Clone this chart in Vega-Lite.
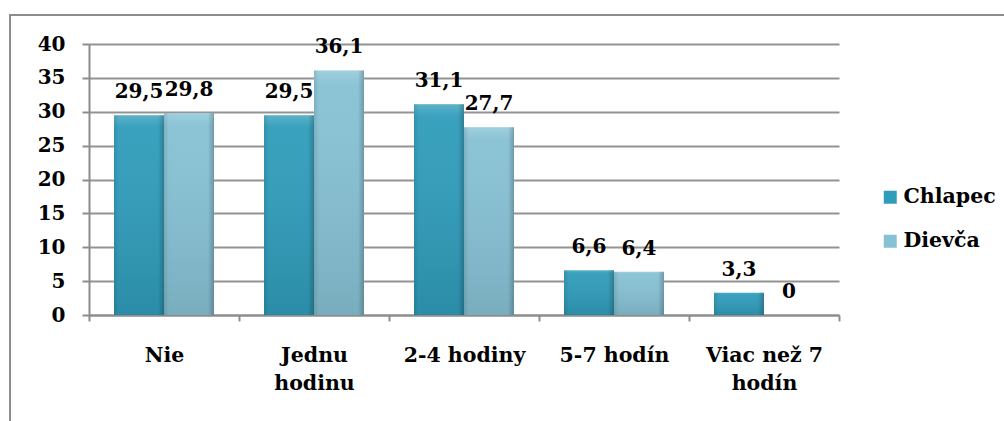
{
  "$schema": "https://vega.github.io/schema/vega-lite/v6.json",
  "width": 750,
  "height": 271,
  "autosize": {"type": "none"},
  "padding": {"left": 89, "top": 44, "right": 165, "bottom": 106},
  "background": "white",
  "config": {
    "font": "DejaVu Serif",
    "view": {"stroke": null},
    "locale": {"number": {"decimal": ",", "thousands": " ", "grouping": [3], "currency": ["", " €"]}}
  },
  "resolve": {"scale": {"x": "independent", "y": "independent"}, "axis": {"x": "independent", "y": "independent"}},
  "layer": [
    {
      "data": {
        "values": [
          {"kategoria": "Nie", "pohlavie": "Chlapec", "percento": 29.5},
          {"kategoria": "Nie", "pohlavie": "Dievča", "percento": 29.8},
          {"kategoria": "Jednu hodinu", "pohlavie": "Chlapec", "percento": 29.5},
          {"kategoria": "Jednu hodinu", "pohlavie": "Dievča", "percento": 36.1},
          {"kategoria": "2-4 hodiny", "pohlavie": "Chlapec", "percento": 31.1},
          {"kategoria": "2-4 hodiny", "pohlavie": "Dievča", "percento": 27.7},
          {"kategoria": "5-7 hodín", "pohlavie": "Chlapec", "percento": 6.6},
          {"kategoria": "5-7 hodín", "pohlavie": "Dievča", "percento": 6.4},
          {"kategoria": "Viac než 7 hodín", "pohlavie": "Chlapec", "percento": 3.3},
          {"kategoria": "Viac než 7 hodín", "pohlavie": "Dievča", "percento": 0}
        ]
      },
      "encoding": {
        "x": {
          "field": "kategoria",
          "type": "nominal",
          "sort": ["Nie", "Jednu hodinu", "2-4 hodiny", "5-7 hodín", "Viac než 7 hodín"],
          "scale": {"paddingInner": 0, "paddingOuter": 0},
          "axis": {
            "title": null,
            "tickBand": "extent",
            "labelAngle": 0,
            "domainColor": "#8c8c8c",
            "domainWidth": 2,
            "tickColor": "#8c8c8c",
            "tickWidth": 2,
            "tickSize": 6,
            "labelPadding": 24,
            "labelFont": "DejaVu Serif",
            "labelFontWeight": "bold",
            "labelFontSize": 20.5,
            "labelColor": "black",
            "labelLineHeight": 28,
            "labelExpr": "datum.value == 'Jednu hodinu' ? ['Jednu', 'hodinu'] : datum.value == 'Viac než 7 hodín' ? ['Viac než 7', 'hodín'] : datum.value"
          }
        },
        "xOffset": {
          "field": "pohlavie",
          "type": "nominal",
          "scale": {"domain": ["Chlapec", "Dievča"], "paddingInner": 0, "paddingOuter": 0.5}
        },
        "y": {
          "field": "percento",
          "type": "quantitative",
          "scale": {"domain": [0, 40], "nice": false},
          "axis": {
            "title": null,
            "values": [0, 5, 10, 15, 20, 25, 30, 35, 40],
            "grid": true,
            "gridColor": "#939393",
            "gridWidth": 2,
            "domainColor": "#8c8c8c",
            "domainWidth": 2,
            "tickColor": "#8c8c8c",
            "tickWidth": 2,
            "tickSize": 7,
            "labelPadding": 17,
            "labelFont": "DejaVu Serif",
            "labelFontWeight": "bold",
            "labelFontSize": 20,
            "labelColor": "black"
          }
        }
      },
      "layer": [
        {
          "mark": {"type": "bar"},
          "encoding": {
            "color": {
              "field": "pohlavie",
              "type": "nominal",
              "scale": {"domain": ["Chlapec", "Dievča"], "range": ["#2f9cba", "#86c1d4"]},
              "legend": {
                "title": null,
                "orient": "none",
                "legendX": 791,
                "legendY": 143,
                "padding": 0,
                "symbolType": "square",
                "symbolSize": 169,
                "symbolStrokeWidth": 0,
                "labelOffset": 3,
                "rowPadding": 23,
                "labelFont": "DejaVu Serif",
                "labelFontWeight": "bold",
                "labelFontSize": 20.5,
                "labelColor": "black"
              }
            }
          }
        },
        {
          "mark": {
            "type": "bar",
            "fill": {
              "gradient": "linear",
              "x1": 0, "y1": 0, "x2": 0, "y2": 1,
              "stops": [
                {"offset": 0, "color": "rgba(255,255,255,0.22)"},
                {"offset": 0.06, "color": "rgba(255,255,255,0.05)"},
                {"offset": 1, "color": "rgba(0,0,0,0.1)"}
              ]
            }
          }
        },
        {
          "mark": {
            "type": "bar",
            "fill": {
              "gradient": "linear",
              "x1": 0, "y1": 0, "x2": 1, "y2": 0,
              "stops": [
                {"offset": 0, "color": "rgba(0,0,0,0.1)"},
                {"offset": 0.1, "color": "rgba(0,0,0,0)"},
                {"offset": 0.88, "color": "rgba(0,0,0,0)"},
                {"offset": 1, "color": "rgba(0,0,0,0.22)"}
              ]
            }
          }
        },
        {
          "mark": {
            "type": "text",
            "baseline": "alphabetic",
            "dy": -17,
            "font": "DejaVu Serif",
            "fontWeight": "bold",
            "fontSize": 20,
            "color": "black"
          },
          "encoding": {
            "text": {"field": "percento", "type": "quantitative", "format": ".1~f"}
          }
        }
      ]
    },
    {
      "data": {"values": [{}]},
      "mark": {"type": "rect", "fill": null, "stroke": "#8c8c8c", "strokeWidth": 2, "clip": false},
      "encoding": {
        "x": {"datum": -0.1053, "type": "quantitative", "scale": {"domain": [0, 1], "nice": false, "zero": false}, "axis": null},
        "x2": {"datum": 1.3},
        "y": {"datum": 44.28, "type": "quantitative", "scale": {"domain": [0, 40], "nice": false}, "axis": null},
        "y2": {"datum": -20}
      }
    }
  ]
}
